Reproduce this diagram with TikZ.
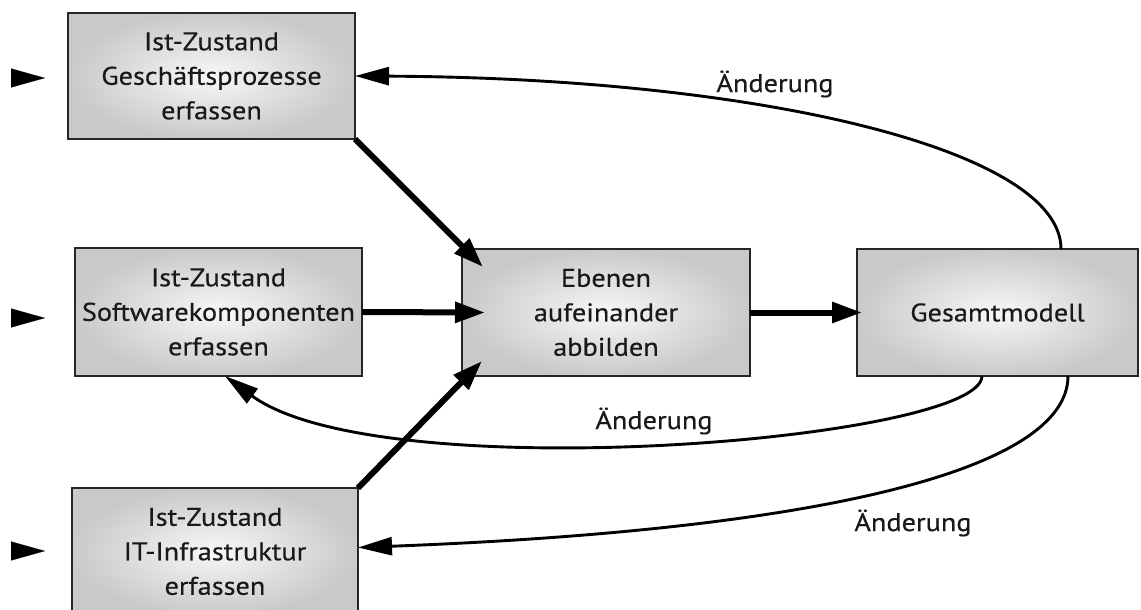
\documentclass[tikz,border=0pt]{standalone}
\usepackage{fontspec}
\setmainfont{PT Sans}[FakeStretch=1.11,FakeBold=0.4]
\usetikzlibrary{arrows.meta}
\begin{document}
\begin{tikzpicture}[x=1pt,y=-1pt,
  box/.style={draw=black!85, line width=1.6pt, inner color=gray!6, outer color=gray!42,
    align=center, text=black!90, inner sep=0pt, outer sep=0pt,
    font=\fontsize{25.5}{34.5}\selectfont},
  flow/.style={line width=6pt, -{Triangle[length=30pt,width=20pt]}},
  change/.style={line width=2.9pt, -{Triangle[length=34pt,width=18pt]}},
  entry/.style={line width=0.1pt, -{Triangle[length=34pt,width=19pt]}},
  lbl/.style={font=\fontsize{25.5}{30}\selectfont, text=black!90, inner sep=0pt}]
\useasboundingbox (0,0) rectangle (1141,610);
\clip (0,0) rectangle (1141,610);

% process boxes
\node[box, minimum width=287pt, minimum height=126pt] (g1) at (211.5,76)
  {Ist-Zustand\\Geschäftsprozesse\\erfassen};
\node[box, minimum width=287pt, minimum height=128pt] (s2) at (218.5,312)
  {Ist-Zustand\\Softwarekomponenten\\erfassen};
\node[box, minimum width=286pt, minimum height=127pt] (i3) at (215,551.5)
  {Ist-Zustand\\IT-Infrastruktur\\erfassen};
\node[box, minimum width=288pt, minimum height=127pt] (eb) at (606,312.5)
  {Ebenen\\aufeinander\\abbilden};
\node[box, minimum width=281pt, minimum height=127pt] (gm) at (997.5,312.5)
  {Gesamtmodell};

% incoming triangles on the left
\coordinate (in1) at (11,78);  \coordinate (in1e) at (45,78);
\coordinate (in2) at (11,318); \coordinate (in2e) at (45,318);
\coordinate (in3) at (11,551); \coordinate (in3e) at (45,551);
\draw[entry] (in1) -- (in1e);
\draw[entry] (in2) -- (in2e);
\draw[entry] (in3) -- (in3e);

% main flow
\draw[flow] (g1.south east) -- ([shift={(21,18)}]eb.north west);
\draw[flow] (s2.east) -- ([xshift=23pt]eb.west);
\draw[flow] (i3.north east) -- ([shift={(20,-15)}]eb.south west);
\draw[flow] (eb.east) -- ([xshift=5pt]gm.west);

% feedback loops
\draw[change] ([xshift=63.5pt]gm.north) .. controls (1061,150) and (760,78) .. (g1.east);
\draw[change] ([xshift=-15.5pt]gm.south) .. controls (982,440) and (380,490) .. ([xshift=6.5pt]s2.south);
\draw[change] ([xshift=70.5pt]gm.south) .. controls (1068,470) and (820,530) .. ([yshift=4pt]i3.east);

\node[lbl] (l1) at (775,84) {Änderung};
\node[lbl] (l2) at (654,421) {Änderung};
\node[lbl] (l3) at (913,523) {Änderung};
\end{tikzpicture}
\end{document}
